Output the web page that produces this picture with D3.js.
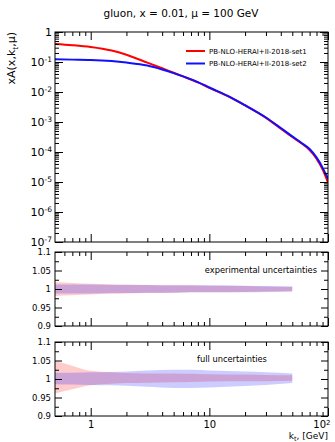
<!DOCTYPE html>
<html>
<head>
<meta charset="utf-8">
<script src="https://cdnjs.cloudflare.com/ajax/libs/d3/7.8.5/d3.min.js"></script>
<style>
body{margin:0;background:#fff}
text{font-family:"DejaVu Sans",sans-serif;fill:#000}
</style>
</head>
<body>
<div id="chart"></div>
<script>
// k_t [GeV] points of the two TMD curves
const kt = [0.5, 0.7, 1, 1.5, 2, 3, 4, 5, 6, 8, 10, 15, 20, 30, 40, 50, 60, 70, 80, 90, 100];
// xA(x,kt,mu)  set1 (red) / set2 (blue)
const set1 = [0.398, 0.363, 0.316, 0.240, 0.174, 0.0955, 0.0617, 0.0437, 0.0331, 0.0209, 0.0138,
  6.61e-3, 3.55e-3, 1.38e-3, 6.03e-4, 3.16e-4, 1.91e-4, 1.17e-4, 6.03e-5, 2.63e-5, 9.5e-6];
const set2 = [0.123, 0.120, 0.117, 0.107, 0.0955, 0.0759, 0.0562, 0.0427, 0.0331, 0.0214, 0.0141,
  6.76e-3, 3.63e-3, 1.41e-3, 6.31e-4, 3.31e-4, 2.0e-4, 1.26e-4, 6.61e-5, 3.02e-5, 1.26e-5];

// ratio bands
const ktBand = [0.5, 0.7, 1, 1.5, 2, 3, 5, 7, 10, 20, 30, 50];
const exp1Lo = [0.981, 0.983, 0.985, 0.987, 0.988, 0.989, 0.990, 0.991, 0.991, 0.992, 0.993, 0.994];
const exp1Hi = [1.018, 1.016, 1.014, 1.013, 1.012, 1.011, 1.010, 1.010, 1.009, 1.008, 1.007, 1.006];
const exp2Lo = [0.988, 0.988, 0.988, 0.989, 0.989, 0.990, 0.990, 0.991, 0.991, 0.991, 0.992, 0.993];
const exp2Hi = [1.012, 1.012, 1.012, 1.011, 1.011, 1.011, 1.010, 1.010, 1.010, 1.009, 1.008, 1.007];
const full1Lo = [0.961, 0.972, 0.983, 0.987, 0.989, 0.990, 0.991, 0.992, 0.993, 0.994, 0.994, 0.995];
const full1Hi = [1.049, 1.036, 1.022, 1.018, 1.016, 1.015, 1.015, 1.014, 1.013, 1.012, 1.011, 1.010];
const full2Lo = [0.986, 0.985, 0.984, 0.983, 0.982, 0.979, 0.976, 0.976, 0.977, 0.981, 0.984, 0.989];
const full2Hi = [1.017, 1.017, 1.018, 1.019, 1.020, 1.023, 1.025, 1.025, 1.023, 1.020, 1.018, 1.015];

const legendNames = ["PB-NLO-HERAI+II-2018-set1", "PB-NLO-HERAI+II-2018-set2"];
const xMajor = [1, 10, 100];
const xMinor = [0.6, 0.7, 0.8, 0.9, 2, 3, 4, 5, 6, 7, 8, 9, 20, 30, 40, 50, 60, 70, 80, 90];
const yDecades = [1e-7, 1e-6, 1e-5, 1e-4, 1e-3, 1e-2, 1e-1, 1];
const rMajor = [0.9, 0.95, 1, 1.05, 1.1];
const rMinor = [0.925, 0.975, 1.025, 1.075];

const W = 335, H = 442;
const L = 55, R = 328;
const svg = d3.select("#chart").append("svg").attr("width", W).attr("height", H);

const x = d3.scaleLog().domain([0.5, 100]).range([L, R]);
const y = d3.scaleLog().domain([1e-7, 1]).range([242, 32]);
const yr1 = d3.scaleLinear().domain([0.9, 1.1]).range([326, 252]);
const yr2 = d3.scaleLinear().domain([0.9, 1.1]).range([416, 342]);

// minor ticks of log y axis
let yMinor = [];
yDecades.slice(0, -1).forEach(d => { for (let i = 2; i < 10; i++) yMinor.push(d * i); });

// title
svg.append("text").attr("x", 181).attr("y", 17).attr("text-anchor", "middle")
  .attr("font-size", 10.5).text("gluon, x = 0.01, \u03bc = 100 GeV");

// one axis group, no domain line
function ax(tr, axis) {
  const g = svg.append("g").attr("transform", tr).call(axis);
  g.select(".domain").remove();
  return g;
}

// x ticks on top and bottom of a panel
function xTicks(top, bottom, labels) {
  const gb = ax(`translate(0,${bottom})`, d3.axisBottom(x).tickValues(xMajor).tickSize(-8)
    .tickPadding(5).tickFormat(d => labels ? (d === 100 ? "10" : d) : ""));
  ax(`translate(0,${bottom})`, d3.axisBottom(x).tickValues(xMinor).tickSize(-4).tickFormat(""));
  ax(`translate(0,${top})`, d3.axisTop(x).tickValues(xMajor).tickSize(-8).tickFormat(""));
  ax(`translate(0,${top})`, d3.axisTop(x).tickValues(xMinor).tickSize(-4).tickFormat(""));
  if (labels) {
    gb.selectAll(".tick text").attr("font-size", 10).attr("font-family", "DejaVu Sans")
      .each(function (d) {
        if (d === 100) {
          d3.select(this).attr("text-anchor", "end").attr("dx", 2)
            .append("tspan").attr("dy", "-0.45em").attr("font-size", 7).text("2");
        }
      });
  }
}

// y ticks of a ratio panel
function ratioTicks(yr) {
  const gl = ax(`translate(${L},0)`, d3.axisLeft(yr).tickValues(rMajor).tickSize(-7).tickPadding(4)
    .tickFormat(d => d === 1 ? "1" : (d === 0.9 ? "0.9" : (d === 1.1 ? "1.1" : d3.format(".2f")(d)))));
  gl.selectAll(".tick text").attr("font-size", 8.5).attr("font-family", "DejaVu Sans");
  ax(`translate(${L},0)`, d3.axisLeft(yr).tickValues(rMinor).tickSize(-4).tickFormat(""));
  ax(`translate(${R},0)`, d3.axisRight(yr).tickValues(rMajor).tickSize(-7).tickFormat(""));
  ax(`translate(${R},0)`, d3.axisRight(yr).tickValues(rMinor).tickSize(-4).tickFormat(""));
}

function frame(top, bottom) {
  svg.append("rect").attr("x", L).attr("y", top).attr("width", R - L).attr("height", bottom - top)
    .attr("fill", "none").attr("stroke", "#000").attr("stroke-width", 1);
}

// ---------- main panel ----------
svg.append("clipPath").attr("id", "clipMain").append("rect")
  .attr("x", L).attr("y", 32).attr("width", R - L).attr("height", 210);

const line = d3.line().x((d, i) => x(kt[i])).y(d => y(d)).curve(d3.curveMonotoneX);
const curves = svg.append("g").attr("clip-path", "url(#clipMain)");
curves.append("path").attr("d", line(set1)).attr("fill", "none").attr("stroke", "#ff0000").attr("stroke-width", 2);
curves.append("path").attr("d", line(set2)).attr("fill", "none").attr("stroke", "#1010ff").attr("stroke-width", 2);

const gyl = ax(`translate(${L},0)`, d3.axisLeft(y).tickValues(yDecades).tickSize(-8).tickPadding(3).tickFormat(""));
gyl.selectAll(".tick text").attr("font-size", 11).attr("font-family", "DejaVu Sans")
  .each(function (d) {
    const e = Math.round(Math.log10(d));
    const t = d3.select(this);
    if (e === 0) { t.text("1"); return; }
    t.append("tspan").text("10");
    t.append("tspan").attr("dy", "-0.5em").attr("font-size", 7.5).text(e);
  });
ax(`translate(${L},0)`, d3.axisLeft(y).tickValues(yMinor).tickSize(-4).tickFormat(""));
ax(`translate(${R},0)`, d3.axisRight(y).tickValues(yDecades).tickSize(-8).tickFormat(""));
ax(`translate(${R},0)`, d3.axisRight(y).tickValues(yMinor).tickSize(-4).tickFormat(""));
xTicks(32, 242, false);
frame(32, 242);

// y title
const yt = svg.append("text").attr("transform", "translate(15,32) rotate(-90)")
  .attr("text-anchor", "end").attr("font-size", 11);
yt.append("tspan").text("xA(x,k");
yt.append("tspan").attr("dy", "0.35em").attr("font-size", 7.5).text("t");
yt.append("tspan").attr("dy", "-0.24em").text(",\u03bc)");

// legend
const legColors = ["#ff0000", "#1010ff"];
legendNames.forEach((n, i) => {
  const ly = 51 + i * 12.5;
  svg.append("line").attr("x1", 186).attr("x2", 205).attr("y1", ly).attr("y2", ly)
    .attr("stroke", legColors[i]).attr("stroke-width", 2);
  svg.append("text").attr("x", 209).attr("y", ly + 2.5).attr("font-size", 7).text(n);
});

// ---------- ratio panels ----------
function band(yr, lo, hi, color) {
  const area = d3.area().x((d, i) => x(ktBand[i])).y0((d, i) => yr(lo[i])).y1((d, i) => yr(hi[i]))
    .curve(d3.curveMonotoneX);
  svg.append("path").attr("d", area(lo)).attr("fill", color).attr("fill-opacity", 0.2);
}

band(yr1, exp1Lo, exp1Hi, "#ff0000");
band(yr1, exp2Lo, exp2Hi, "#0000ff");
ratioTicks(yr1);
xTicks(252, 326, false);
frame(252, 326);
svg.append("text").attr("x", 317).attr("y", 273).attr("text-anchor", "end")
  .attr("font-size", 8.3).text("experimental uncertainties");

band(yr2, full1Lo, full1Hi, "#ff0000");
band(yr2, full2Lo, full2Hi, "#0000ff");
ratioTicks(yr2);
xTicks(342, 416, true);
frame(342, 416);
svg.append("text").attr("x", 197).attr("y", 362).attr("font-size", 8.3).text("full uncertainties");

// x title
const xt = svg.append("text").attr("x", 328).attr("y", 439).attr("text-anchor", "end").attr("font-size", 9);
xt.append("tspan").text("k");
xt.append("tspan").attr("dy", "0.25em").attr("font-size", 6.5).text("t");
xt.append("tspan").attr("dy", "-0.2em").text(", [GeV]");
</script>
</body>
</html>
